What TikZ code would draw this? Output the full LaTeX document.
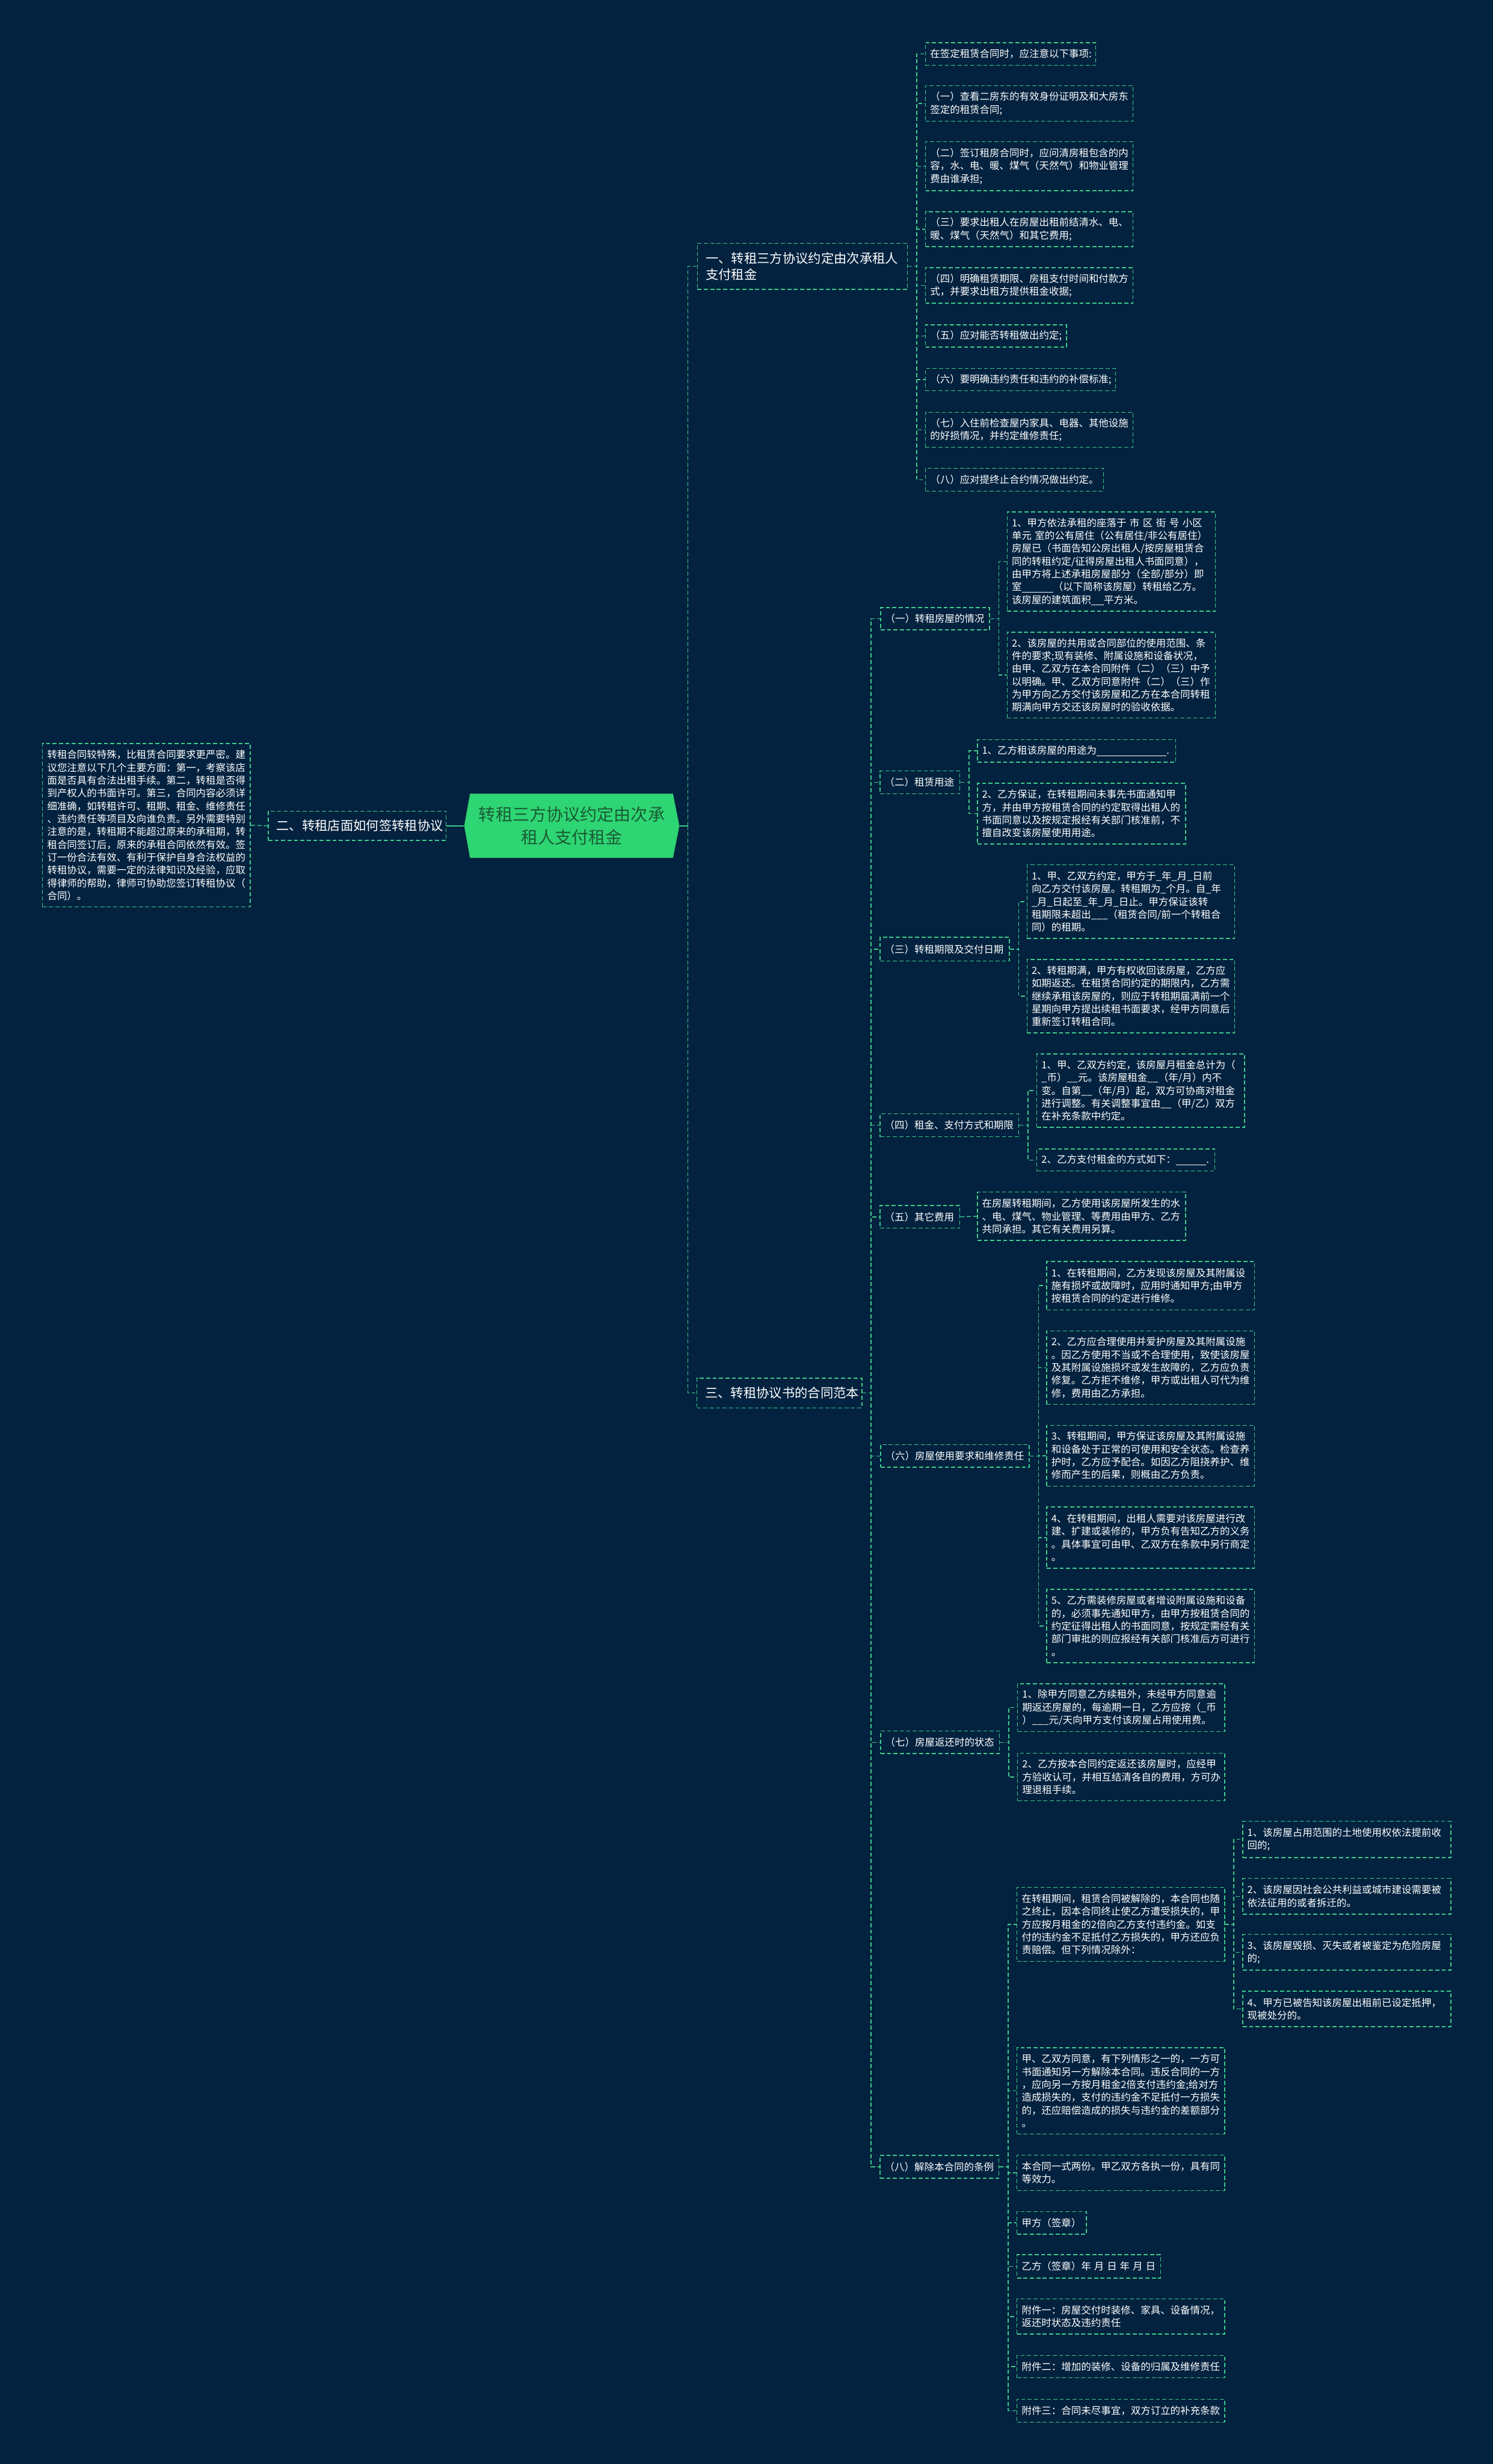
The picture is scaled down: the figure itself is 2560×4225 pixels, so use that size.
\documentclass[tikz,border=0pt]{standalone}
\usepackage{fontspec}
\setmainfont{Noto Sans CJK SC}
\definecolor{bg}{HTML}{03223F}
\definecolor{lg}{HTML}{3DCB8A}
\definecolor{cg}{HTML}{2ED573}
\definecolor{ct}{HTML}{1A5C36}
\newcommand\mypad{4}
\newcommand\mybox[7][]{%
  \pgfmathsetmacro\myw{(#5-#3)*0.5}%
  \pgfmathsetmacro\myt{(#5-#3)*0.5-2*\mypad}%
  \pgfmathsetmacro\myh{(#6-#4)*0.5}%
  \node[box,#1,inner xsep=\mypad pt,text width=\myt pt,minimum width=\myw pt,minimum height=\myh pt] (#2) at ({(#3+#5)/2},{(#4+#6)/2}) {#7};%
}
\newcommand\blank[1]{\rule[-1.5pt]{#1}{0.5pt}}
\newcommand\mysp{\hspace{0.3em}}
\newcommand\elbow[2]{\draw[conn] (#1.east) -- ++(15,0) |- (#2.west);}
\tikzset{
  box/.style={draw=lg, dash pattern=on 3.5pt off 2pt, line width=0.75pt, text=white, align=left, inner ysep=1pt, font=\fontsize{8.5pt}{11pt}\selectfont},
  lvl/.style={font=\fontsize{11pt}{14pt}\selectfont},
  conn/.style={draw=lg, dash pattern=on 3.5pt off 2pt, line width=0.75pt},
  solidc/.style={draw=lg, line width=0.9pt},
}
\begin{document}
\begin{tikzpicture}[x=0.5pt,y=-0.5pt]
\fill[bg] (0,0) rectangle (2560,4225);
\useasboundingbox (0,0) rectangle (2560,4225);

% centre
\fill[cg] (796,1416) -- (806,1361) -- (1154,1361) -- (1165,1416) -- (1154,1471) -- (806,1471) -- cycle;
\node[minimum width=184.5pt, minimum height=55pt, inner sep=0pt, text=ct, align=center, font=\fontsize{14.5pt}{20pt}\selectfont] (ctr) at (980.5,1416) {转租三方协议约定由次承\\租人支付租金};

% level 1
\renewcommand\mypad{7}
\mybox[lvl]{n1}{1196}{417}{1556}{496}{一、转租三方协议约定由次承租人\\支付租金}
\mybox[lvl]{n2}{460}{1391}{765}{1441}{二、转租店面如何签转租协议}
\mybox[lvl]{n3}{1195}{2363}{1478}{2414}{三、转租协议书的合同范本}
\renewcommand\mypad{4}

% left text
\mybox{L}{73}{1275}{429}{1555}{转租合同较特殊，比租赁合同要求更严密。建\\议您注意以下几个主要方面：第一，考察该店\\面是否具有合法出租手续。第二，转租是否得\\到产权人的书面许可。第三，合同内容必须详\\细准确，如转租许可、租期、租金、维修责任\\、违约责任等项目及向谁负责。另外需要特别\\注意的是，转租期不能超过原来的承租期，转\\租合同签订后，原来的承租合同依然有效。签\\订一份合法有效、有利于保护自身合法权益的\\转租协议，需要一定的法律知识及经验，应取\\得律师的帮助，律师可协助您签订转租协议（\\合同）。}

% top right
\mybox{T0}{1587}{73}{1879}{112}{在签定租赁合同时，应注意以下事项:}
\mybox{T1}{1587}{147}{1943}{208}{（一）查看二房东的有效身份证明及和大房东\\签定的租赁合同;}
\mybox{T2}{1587}{243}{1943}{327}{（二）签订租房合同时，应问清房租包含的内\\容，水、电、暖、煤气（天然气）和物业管理\\费由谁承担;}
\mybox{T3}{1587}{363}{1943}{423}{（三）要求出租人在房屋出租前结清水、电、\\暖、煤气（天然气）和其它费用;}
\mybox{T4}{1587}{459}{1943}{520}{（四）明确租赁期限、房租支付时间和付款方\\式，并要求出租方提供租金收据;}
\mybox{T5}{1587}{557}{1829}{595}{（五）应对能否转租做出约定;}
\mybox{T6}{1587}{632}{1913}{670}{（六）要明确违约责任和违约的补偿标准;}
\mybox{T7}{1587}{707}{1943}{767}{（七）入住前检查屋内家具、电器、其他设施\\的好损情况，并约定维修责任;}
\mybox{T8}{1587}{803}{1892}{842}{（八）应对提终止合约情况做出约定。}

% level 2 labels
\mybox{S1}{1510}{1042}{1697}{1080}{（一）转租房屋的情况}
\mybox{S2}{1509}{1322}{1646}{1361}{（二）租赁用途}
\mybox{S3}{1509}{1607}{1731}{1648}{（三）转租期限及交付日期}
\mybox{S4}{1509}{1910}{1747}{1949}{（四）租金、支付方式和期限}
\mybox{S5}{1509}{2067}{1646}{2106}{（五）其它费用}
\mybox{S6}{1510}{2477}{1765}{2516}{（六）房屋使用要求和维修责任}
\mybox{S7}{1510}{2968}{1714}{3007}{（七）房屋返还时的状态}
\mybox{S8}{1509}{3696}{1713}{3735}{（八）解除本合同的条例}

% leaves
\mybox{A1}{1727}{878}{2084}{1048}{1、甲方依法承租的座落于 市 区 街 号 小区\\单元 室的公有居住（公有居住/非公有居住）\\房屋已（书面告知公房出租人/按房屋租赁合\\同的转租约定/征得房屋出租人书面同意），\\由甲方将上述承租房屋部分（全部/部分）即\\室\blank{27pt}（以下简称该房屋）转租给乙方。\\该房屋的建筑面积\blank{11pt}平方米。}
\mybox{A2}{1727}{1084}{2084}{1231}{2、该房屋的共用或合同部位的使用范围、条\\件的要求;现有装修、附属设施和设备状况，\\由甲、乙双方在本合同附件（二）（三）中予\\以明确。甲、乙双方同意附件（二）（三）作\\为甲方向乙方交付该房屋和乙方在本合同转租\\期满向甲方交还该房屋时的验收依据。}
\mybox{B1}{1676}{1268}{2016}{1307}{1、乙方租该房屋的用途为\blank{60pt}.}
\mybox{B2}{1676}{1343}{2033}{1447}{2、乙方保证，在转租期间未事先书面通知甲\\方，并由甲方按租赁合同的约定取得出租人的\\书面同意以及按规定报经有关部门核准前，不\\擅自改变该房屋使用用途。}
\mybox{C1}{1761}{1483}{2117}{1609}{1、甲、乙双方约定，甲方于\_年\_月\_日前\\向乙方交付该房屋。转租期为\_个月。自\_年\\\_月\_日起至\_年\_月\_日止。甲方保证该转\\租期限未超出\_\_\_（租赁合同/前一个转租合\\同）的租期。}
\mybox{C2}{1761}{1645}{2117}{1771}{2、转租期满，甲方有权收回该房屋，乙方应\\如期返还。在租赁合同约定的期限内，乙方需\\继续承租该房屋的，则应于转租期届满前一个\\星期向甲方提出续租书面要求，经甲方同意后\\重新签订转租合同。}
\mybox{D1}{1778}{1807}{2134}{1933}{1、甲、乙双方约定，该房屋月租金总计为（\\\_币）\_\_元。该房屋租金\_\_（年/月）内不\\变。自第\_\_（年/月）起，双方可协商对租金\\进行调整。有关调整事宜由\_\_（甲/乙）双方\\在补充条款中约定。}
\mybox{D2}{1778}{1970}{2083}{2008}{2、乙方支付租金的方式如下：\blank{26pt}.}
\mybox{E1}{1676}{2044}{2033}{2127}{在房屋转租期间，乙方使用该房屋所发生的水\\、电、煤气、物业管理、等费用由甲方、乙方\\共同承担。其它有关费用另算。}
\mybox{F1}{1795}{2163}{2151}{2246}{1、在转租期间，乙方发现该房屋及其附属设\\施有损坏或故障时，应用时通知甲方;由甲方\\按租赁合同的约定进行维修。}
\mybox{F2}{1795}{2282}{2151}{2408}{2、乙方应合理使用并爱护房屋及其附属设施\\。因乙方使用不当或不合理使用，致使该房屋\\及其附属设施损坏或发生故障的，乙方应负责\\修复。乙方拒不维修，甲方或出租人可代为维\\修，费用由乙方承担。}
\mybox{F3}{1795}{2444}{2151}{2548}{3、转租期间，甲方保证该房屋及其附属设施\\和设备处于正常的可使用和安全状态。检查养\\护时，乙方应予配合。如因乙方阻挠养护、维\\修而产生的后果，则概由乙方负责。}
\mybox{F4}{1795}{2584}{2151}{2689}{4、在转租期间，出租人需要对该房屋进行改\\建、扩建或装修的，甲方负有告知乙方的义务\\。具体事宜可由甲、乙双方在条款中另行商定\\。}
\mybox{F5}{1795}{2725}{2151}{2851}{5、乙方需装修房屋或者增设附属设施和设备\\的，必须事先通知甲方，由甲方按租赁合同的\\约定征得出租人的书面同意，按规定需经有关\\部门审批的则应报经有关部门核准后方可进行\\。}
\mybox{G1}{1745}{2887}{2100}{2969}{1、除甲方同意乙方续租外，未经甲方同意逾\\期返还房屋的，每逾期一日，乙方应按（\_币\\）\_\_\_元/天向甲方支付该房屋占用使用费。}
\mybox{G2}{1745}{3006}{2100}{3088}{2、乙方按本合同约定返还该房屋时，应经甲\\方验收认可，并相互结清各自的费用，方可办\\理退租手续。}
\mybox{H1}{1744}{3236}{2100}{3363}{在转租期间，租赁合同被解除的，本合同也随\\之终止，因本合同终止使乙方遭受损失的，甲\\方应按月租金的2倍向乙方支付违约金。如支\\付的违约金不足抵付乙方损失的，甲方还应负\\责赔偿。但下列情况除外：}
\mybox{Ha}{2131}{3123}{2488}{3185}{1、该房屋占用范围的土地使用权依法提前收\\回的;}
\mybox{Hb}{2131}{3221}{2488}{3282}{2、该房屋因社会公共利益或城市建设需要被\\依法征用的或者拆迁的。}
\mybox{Hc}{2131}{3317}{2488}{3378}{3、该房屋毁损、灭失或者被鉴定为危险房屋\\的;}
\mybox{Hd}{2131}{3414}{2488}{3475}{4、甲方已被告知该房屋出租前已设定抵押，\\现被处分的。}
\mybox{H2}{1744}{3511}{2100}{3659}{甲、乙双方同意，有下列情形之一的，一方可\\书面通知另一方解除本合同。违反合同的一方\\，应向另一方按月租金2倍支付违约金;给对方\\造成损失的，支付的违约金不足抵付一方损失\\的，还应赔偿造成的损失与违约金的差额部分\\。}
\mybox{H3}{1744}{3695}{2100}{3756}{本合同一式两份。甲乙双方各执一份，具有同\\等效力。}
\mybox{H4}{1744}{3792}{1863}{3831}{甲方（签章）}
\mybox{H5}{1744}{3866}{1990}{3906}{\mbox{乙方（签章）年\mysp 月\mysp 日\mysp 年\mysp 月\mysp 日}}
\mybox{H6}{1744}{3942}{2100}{4002}{附件一：房屋交付时装修、家具、设备情况，\\返还时状态及违约责任}
\mybox{H7}{1744}{4039}{2100}{4077}{附件二：增加的装修、设备的归属及维修责任}
\mybox{H8}{1744}{4114}{2100}{4153}{附件三：合同未尽事宜，双方订立的补充条款}

% connectors
\draw[solidc] (ctr.west) -- (n2.east);
\draw[conn] (n2.west) -- (L.east);
\draw[solidc] (ctr.east) -- ++(14,0);
\draw[conn] (ctr.east) ++(14,0) |- (n1.west);
\draw[conn] (ctr.east) ++(14,0) |- (n3.west);
\foreach \i in {0,...,8} {\elbow{n1}{T\i}}
\foreach \i in {1,...,8} {\elbow{n3}{S\i}}
\elbow{S1}{A1} \elbow{S1}{A2}
\elbow{S2}{B1} \elbow{S2}{B2}
\elbow{S3}{C1} \elbow{S3}{C2}
\elbow{S4}{D1} \elbow{S4}{D2}
\draw[conn] (S5.east) -- (E1.west);
\foreach \i in {1,...,5} {\elbow{S6}{F\i}}
\elbow{S7}{G1} \elbow{S7}{G2}
\foreach \i in {1,...,8} {\elbow{S8}{H\i}}
\foreach \i in {a,b,c,d} {\elbow{H1}{H\i}}
\end{tikzpicture}
\end{document}
